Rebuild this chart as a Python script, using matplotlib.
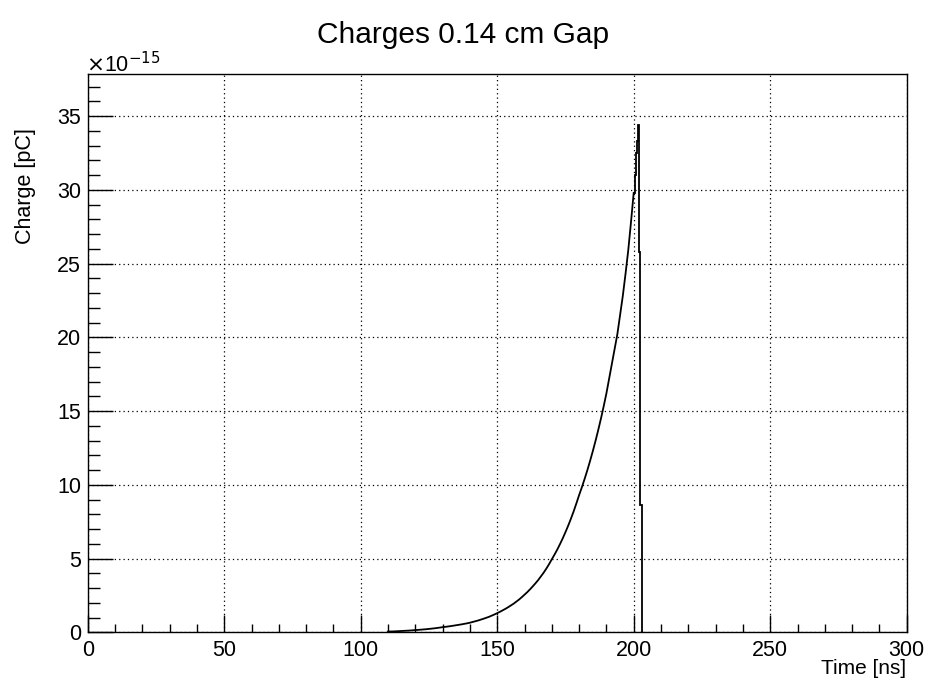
import matplotlib
matplotlib.use("Agg")
import matplotlib.pyplot as plt
import numpy as np
from matplotlib.ticker import MultipleLocator

# charge, in units of 1e-15 pC, every 1 ns from 110 to 200 ns
time_ns = np.arange(110, 201)
charge_main = [
    0.05, 0.055, 0.06, 0.07, 0.08, 0.09, 0.10, 0.11, 0.12, 0.135,
    0.15, 0.163, 0.178, 0.194, 0.21, 0.23, 0.25, 0.27, 0.295, 0.32,
    0.35, 0.37, 0.395, 0.42, 0.45, 0.48, 0.51, 0.54, 0.575, 0.61,
    0.65, 0.70, 0.75, 0.80, 0.86, 0.92, 0.985, 1.05, 1.13, 1.21,
    1.30, 1.39, 1.49, 1.59, 1.70, 1.82, 1.94, 2.08, 2.22, 2.38,
    2.55, 2.72, 2.91, 3.11, 3.32, 3.54, 3.79, 4.04, 4.32, 4.62,
    4.95, 5.27, 5.61, 5.98, 6.37, 6.79, 7.23, 7.70, 8.20, 8.74,
    9.30, 9.83, 10.39, 10.98, 11.61, 12.27, 12.97, 13.71, 14.49, 15.32,
    16.2, 17.2, 18.2, 19.2, 20.2, 21.5, 22.8, 24.3, 25.9, 27.8,
    29.8,
]
# end of the pulse, drawn as histogram bins
tail_edges = [200.0, 200.5, 201.0, 201.3, 201.6, 201.94, 202.3, 202.9, 203.5]
charge_tail = [29.8, 31.0, 32.5, 33.3, 34.4, 25.8, 8.6, 0.0]

W, H = 927, 683
fig = plt.figure(figsize=(W / 100, H / 100), dpi=100)
ax = fig.add_axes([87.7 / W, 1 - 632.3 / H, 819 / W, 558 / H])

font = "Liberation Sans"

ax.plot(time_ns, charge_main, color="black", linewidth=1.3)
ax.stairs(charge_tail, tail_edges, baseline=None, color="black", linewidth=1.3)

ax.set_xlim(0, 300)
ax.set_ylim(0, 37.84)

ax.xaxis.set_major_locator(MultipleLocator(50))
ax.xaxis.set_minor_locator(MultipleLocator(10))
ax.yaxis.set_major_locator(MultipleLocator(5))
ax.yaxis.set_minor_locator(MultipleLocator(1))

ax.tick_params(axis="x", which="major", direction="in", length=12, width=1,
               pad=5.5, labelsize=15.5)
ax.tick_params(axis="x", which="minor", direction="in", length=6, width=1)
ax.tick_params(axis="y", which="major", direction="in", length=17.7, width=1,
               pad=4.8, labelsize=15.5)
ax.tick_params(axis="y", which="minor", direction="in", length=8.8, width=1)
for lab in ax.get_xticklabels() + ax.get_yticklabels():
    lab.set_fontfamily(font)

ax.grid(True, which="major", color="black", linestyle=(0, (1, 2.5)),
        linewidth=0.9)
for s in ax.spines.values():
    s.set_linewidth(1)

fig.text(0.5, 1 - 35 / H, "Charges 0.14 cm Gap", ha="center", va="center",
         fontsize=21.5, family=font)
fig.text(906 / W, 1 - 669 / H, "Time [ns]", ha="right", va="center",
         fontsize=15, family=font)
fig.text(25 / W, 1 - 128 / H, "Charge [pC]", ha="center", va="top",
         rotation=90, fontsize=15.5, family=font)
fig.text(86 / W, 1 - 72 / H, r"$\times$10$^{-15}$", ha="left",
         va="baseline", fontsize=15.5, family=font)

fig.savefig("out.png", dpi=100)
